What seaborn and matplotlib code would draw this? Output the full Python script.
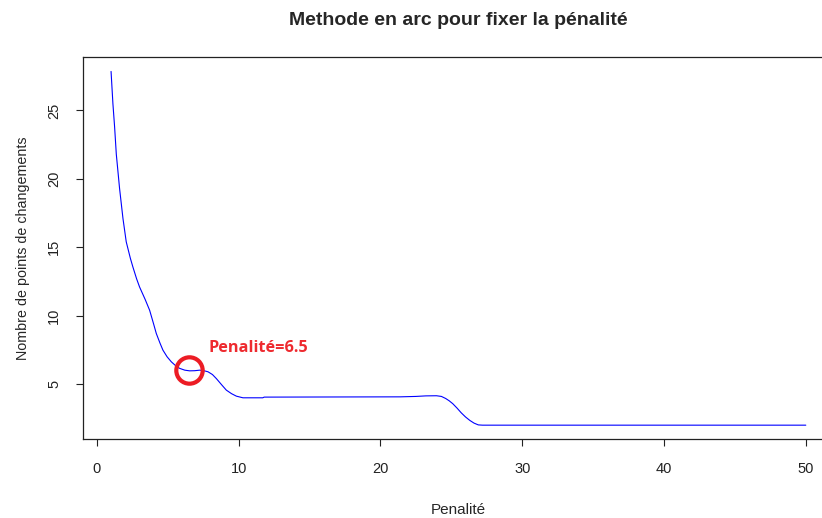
import seaborn as sns
import matplotlib.pyplot as plt
import pandas as pd

# values
penalite = [1.0, 1.13, 1.25, 1.37, 1.6, 1.84, 2.07, 2.36, 2.54, 2.8, 3.01, 3.4,
            3.72, 4.0, 4.19, 4.45, 4.66, 4.95, 5.25, 5.55, 5.84, 6.2, 6.54, 6.9,
            7.25, 7.55, 7.84, 8.15, 8.43, 8.8, 9.13, 9.5, 9.84, 10.3, 11.7, 11.8,
            21.4, 22.5, 23.2, 23.95, 24.3, 24.6, 24.85, 25.1, 25.4, 25.7, 26.0,
            26.3, 26.6, 26.9, 27.2, 50.0]
nb_points = [27.85, 25.5, 23.8, 21.8, 19.3, 17.1, 15.4, 14.2, 13.56, 12.7, 12.1, 11.2,
             10.4, 9.4, 8.7, 8.0, 7.48, 7.0, 6.63, 6.35, 6.15, 6.02, 5.97, 5.98,
             6.02, 5.98, 5.9, 5.7, 5.4, 4.95, 4.56, 4.3, 4.12, 4.0, 4.0, 4.05,
             4.07, 4.1, 4.14, 4.15, 4.1, 3.95, 3.78, 3.57, 3.25, 2.9, 2.6,
             2.35, 2.15, 2.02, 2.0, 2.0]
pen_choisie = 6.5
nb_choisi = 6.0
x_ticks = [0, 10, 20, 30, 40, 50]
y_ticks = [5, 10, 15, 20, 25]

sns.set_style("white")
plt.rcParams['font.family'] = ['Liberation Sans', 'DejaVu Sans']

df = pd.DataFrame({'penalite': penalite, 'nb': nb_points})

fig = plt.figure(figsize=(8.22, 5.18), dpi=100)
ax = fig.add_axes([0.1013, 0.1519, 0.9128, 0.7375])

sns.lineplot(x='penalite', y='nb', data=df, sort=False, estimator=None,
             color='#0000ff', linewidth=0.8, ax=ax)

# R-style 4% padding
xr = max(penalite) - min(penalite)
yr = max(nb_points) - min(nb_points)
ax.set_xlim(min(penalite) - 0.04 * xr, max(penalite) + 0.04 * xr)
ax.set_ylim(min(nb_points) - 0.04 * yr, max(nb_points) + 0.04 * yr)

ax.plot([pen_choisie], [nb_choisi], marker='o', markersize=19, markerfacecolor='none',
        markeredgecolor='#ec1c24', markeredgewidth=3)
ax.text(pen_choisie + 1.38, nb_choisi + 1.63, 'Penalité=6.5', color='#ee2a2f',
        fontsize=11.7, fontweight='bold', family=['Open Sans', 'DejaVu Sans'],
        ha='left', va='center')

ax.set_xticks(x_ticks)
ax.set_yticks(y_ticks)
ax.set_yticklabels([str(v) for v in y_ticks], rotation=90, va='center')
ax.tick_params(axis='both', direction='out', length=5, width=0.8, colors='#222222',
               labelsize=10.5, pad=11, left=True, bottom=True)
for s in ax.spines.values():
    s.set_color('#222222')
    s.set_linewidth(0.9)

ax.set_xlabel('Penalité', fontsize=11, labelpad=20)
ax.set_ylabel('Nombre de points de changements', fontsize=10.3, labelpad=12)
fig.text(0.557, 0.960, 'Methode en arc pour fixer la pénalité', fontsize=14,
         fontweight='bold', ha='center', va='center')

fig.savefig('out.png', dpi=100)
